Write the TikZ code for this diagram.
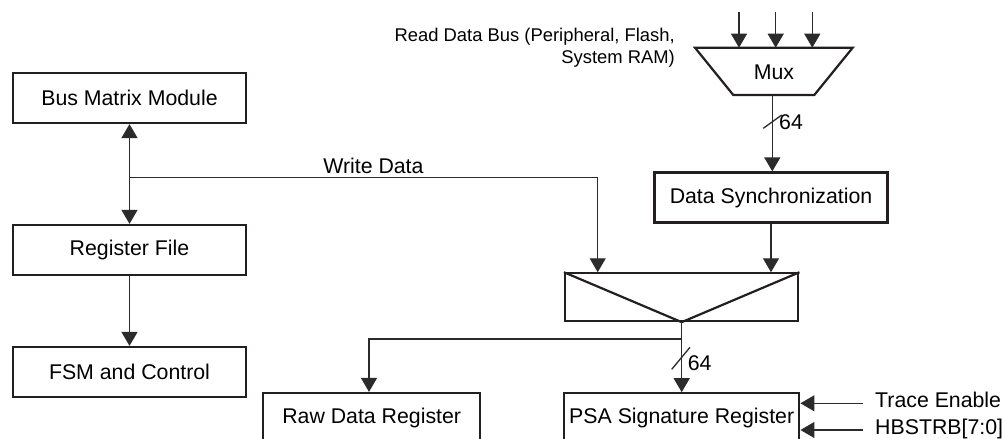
\documentclass[tikz,border=0pt]{standalone}
\usepackage{fontspec}
\setmainfont{Liberation Sans}
\usetikzlibrary{arrows.meta}
\newcommand\mainfs{\fontsize{21.3}{25}\selectfont}
\newcommand\smallfs{\fontsize{18.4}{21.5}\selectfont}
\definecolor{boxc}{HTML}{231F20}
\definecolor{linec}{HTML}{2B2B2B}
\begin{document}
\begin{tikzpicture}[x=1pt,y=-1pt,
  box/.style={draw=boxc, line width=2.2pt, minimum width=233pt, minimum height=50pt, inner sep=0pt, font=\mainfs},
  boxline/.style={draw=boxc, line width=2.2pt, line join=miter},
  conn/.style={draw=linec, line width=1.3pt},
  arr/.style={conn, -{Triangle[width=16pt,length=14pt]}},
  dbl/.style={conn, {Triangle[width=16pt,length=14pt]}-{Triangle[width=16pt,length=14pt]}},
  lbl/.style={inner sep=0pt, font=\mainfs}]
\useasboundingbox (0,0) rectangle (1002,439);
\clip (0,0) rectangle (1002,439);

% left column
\node[box] (bmm) at (129.5,98) {Bus Matrix Module};
\node[box] (rf) at (129.5,250) {Register File};
\node[box] (fsm) at (129.5,372) {FSM and Control};

% right part
\node[box] (ds) at (771,197.5) {Data Synchronization};
\node[box, minimum width=233.3pt, minimum height=47.7pt] (mr) at (681.7,297.2) {};
\draw[boxline] (mr.north west) -- (mr.south) -- (mr.north east);
\node[box, minimum width=216.7pt] (raw) at (371.7,418) {Raw Data Register};
\node[box, minimum width=235.3pt] (psa) at (681.7,418.3) {PSA Signature Register};

% mux
\draw[boxline] (695,47.7) -- (852.7,47.7) -- (814.3,95) -- (733.3,95) -- cycle;
\node[lbl] (mux) at (774,72) {Mux};
\node[lbl, font=\smallfs, align=right, anchor=north east] (rdb) at (675,28) {Read Data Bus (Peripheral, Flash,\\System RAM)};

\coordinate (i1) at (739,11.7);   \coordinate (t1) at (739,47.7);
\coordinate (i2) at (775.7,11.7); \coordinate (t2) at (775.7,47.7);
\coordinate (i3) at (812.3,11.7); \coordinate (t3) at (812.3,47.7);
\draw[arr] (i1) -- (t1);
\draw[arr] (i2) -- (t2);
\draw[arr] (i3) -- (t3);

% mux -> data sync
\coordinate (mo) at (772.3,95);
\draw[arr] (mo) -- (mo |- ds.north);
\draw[conn] (763.3,128.3) -- (781.7,115);
\node[lbl, anchor=base west] (w1) at (779,129.3) {64};

% data sync -> mux rectangle
\draw[arr] (ds.south) -- (ds.south |- mr.north);

% left connections
\draw[dbl] (bmm.south) -- (rf.north);
\draw[arr] (rf.south) -- (fsm.north);

% write data
\coordinate (wj) at (129.5,177.3);
\coordinate (wc) at (597.7,177.3);
\draw[arr] (wj) -- (wc) -- (wc |- mr.north);
\node[lbl, anchor=base] (wd) at (373.4,173.3) {Write Data};

% mux rectangle outputs
\coordinate (bj) at (681.7,339);
\coordinate (bc) at (369,339);
\draw[arr] (mr.south) -- (psa.north);
\draw[arr] (bj) -- (bc) -- (bc |- raw.north);
\draw[conn] (671.7,369.3) -- (690,347.3);
\node[lbl, anchor=base west] (w2) at (687.7,370.7) {64};

% side inputs
\coordinate (te0) at (863.3,403.3);
\coordinate (hb0) at (863.3,430);
\draw[arr] (te0) -- (te0 -| psa.east);
\draw[arr] (hb0) -- (hb0 -| psa.east);
\node[lbl, anchor=base west] (te) at (875,407.7) {Trace Enable};
\node[lbl, anchor=base west] (hb) at (875,434) {HBSTRB[7:0]};
\end{tikzpicture}
\end{document}
